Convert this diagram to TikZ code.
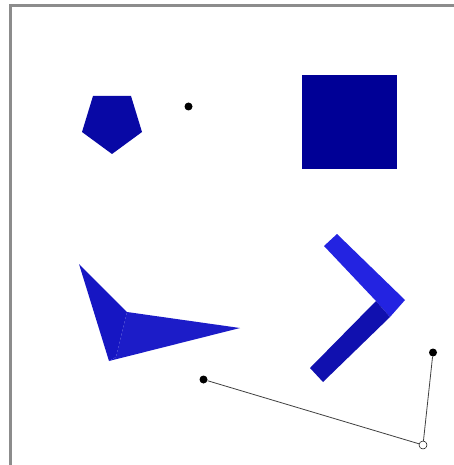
\documentclass[tikz,border=0pt]{standalone}
\begin{document}
\begin{tikzpicture}[x=1pt,y=-1pt,
  frame/.style={draw=black!45,line width=2.2pt},
  dot/.style={circle,fill=black,inner sep=0pt,minimum size=8pt},
  odot/.style={circle,draw=black,fill=white,inner sep=0pt,minimum size=8pt,line width=0.5pt},
  link/.style={draw=black!75,line width=0.8pt}]
\definecolor{navyA}{RGB}{8,8,165}
\definecolor{navyB}{RGB}{0,0,150}
\definecolor{blueC}{RGB}{22,22,195}
\definecolor{blueD}{RGB}{28,28,200}
\definecolor{blueE}{RGB}{35,35,225}
\definecolor{blueF}{RGB}{16,16,175}
\useasboundingbox (0,0) rectangle (454,465);
\fill[white] (0,0) rectangle (454,465);
\draw[frame] (10.5,465) -- (10.5,5.5) -- (454,5.5);
% pentagon
\fill[navyA] (93,96) -- (131,96) -- (142,132) -- (112,154) -- (82,132) -- cycle;
% isolated dot
\node[dot] (p) at (188.5,106.5) {};
% square
\fill[navyB] (302,75) rectangle (397,169);
% folded triangle
\fill[blueC] (79,264) -- (127,312) -- (116,357) -- (109,361) -- cycle;
\fill[blueD] (127,312) -- (240,328) -- (109,361) -- (116,357) -- cycle;
% chevron
\fill[blueE] (324,246) -- (337,234) -- (405,300) -- (390,317) -- (376,301) -- cycle;
\fill[blueF] (376,301) -- (390,317) -- (323,382) -- (310,368) -- cycle;
% linkage
\node[dot] (a) at (203.5,379.5) {};
\node[dot] (b) at (433,352.5) {};
\node[odot] (o) at (423,445) {};
\draw[link] (a) -- (o) -- (b);
\end{tikzpicture}
\end{document}
